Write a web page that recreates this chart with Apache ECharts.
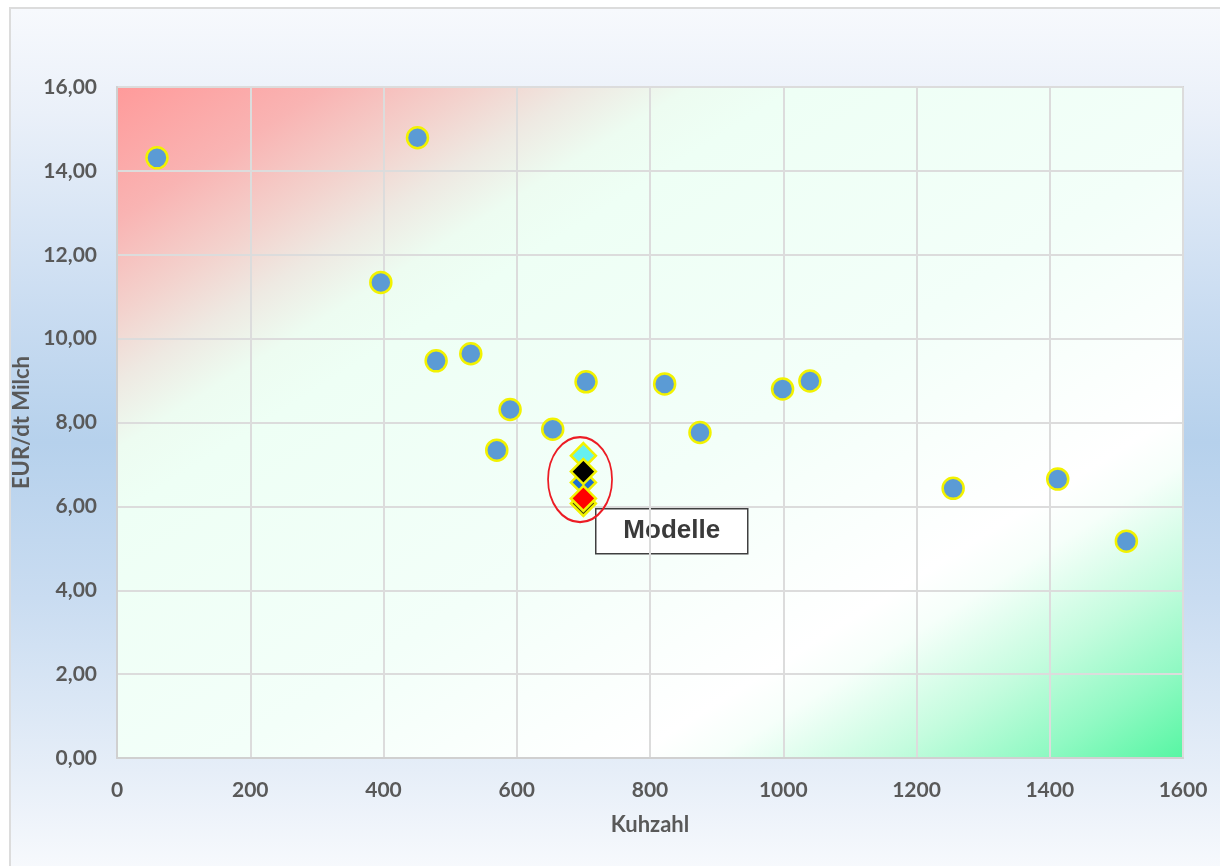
<!DOCTYPE html>
<html>
<head>
<meta charset="utf-8">
<script src="https://cdn.jsdelivr.net/npm/echarts@6/dist/echarts.min.js"></script>
<style>
  html, body { margin: 0; padding: 0; background: #ffffff; }
  #wrap { position: relative; width: 1220px; height: 866px; overflow: hidden; }
  #frame {
    position: absolute; left: 9px; top: 7px; width: 1220px; height: 870px;
    border: 2px solid #dcdcdc; box-sizing: border-box;
    background: linear-gradient(to bottom, #f7f9fd 0%, #eaf0f9 12%, #c9dcf1 35%, #b6d1ec 50%, #c9dcf1 68%, #e6eef8 88%, #f8fafd 100%);
  }
  #chart { position: absolute; left: 0; top: 0; width: 1220px; height: 866px; }
</style>
</head>
<body>
<div id="wrap">
  <div id="frame"></div>
  <div id="chart"></div>
</div>
<script>
// Farms: herd size (Kuhzahl) vs. cost in EUR per dt milk
const kuhzahl = [60, 451, 396, 479, 531, 590, 570, 654, 704, 822, 875, 999, 1040, 1255, 1412, 1515];
const eurProDt = [14.31, 14.79, 11.34, 9.47, 9.64, 8.31, 7.34, 7.84, 8.97, 8.92, 7.76, 8.80, 8.99, 6.43, 6.65, 5.17];

// Model farms, all at the same herd size
const modellKuhzahl = [700, 700, 700, 700, 700];
const modellEur = [6.07, 6.57, 7.21, 6.83, 6.19];
const modellFarben = ['#3b3b10', '#1f6fd0', '#66f0f0', '#000000', '#ff0000'];

// Ring marking the model group and its caption
const ringMitte = [695, 6.64];
const ringText = 'Modelle';

// Axis ranges and tick steps
const xMin = 0, xMax = 1600, xStep = 200;
const yMin = 0, yMax = 16, yStep = 2;

const chart = echarts.init(document.getElementById('chart'), null, { renderer: 'canvas' });

const labelFont = { fontFamily: 'Lato', fontWeight: 'bold', fontSize: 21, color: '#595959' };

const plotGradient = {
  type: 'linear', x: 0, y: 0, x2: 0.5676, y2: 1.4324,
  colorStops: [
    { offset: 0.00, color: '#ff9a9a' },
    { offset: 0.10, color: '#f9b4b3' },
    { offset: 0.17, color: '#f3d2cd' },
    { offset: 0.22, color: '#eee9e2' },
    { offset: 0.27, color: '#edfcf1' },
    { offset: 0.32, color: '#eefff5' },
    { offset: 0.55, color: '#f3fff9' },
    { offset: 0.74, color: '#ffffff' },
    { offset: 0.78, color: '#f6fffa' },
    { offset: 0.86, color: '#c4fcde' },
    { offset: 0.93, color: '#90f9c3' },
    { offset: 1.00, color: '#55f6a2' }
  ]
};

const option = {
  backgroundColor: 'transparent',
  animation: false,
  grid: {
    left: 117, top: 87, right: 37, bottom: 108,
    show: true,
    backgroundColor: plotGradient,
    borderColor: '#d4d4d4',
    borderWidth: 2
  },
  xAxis: {
    type: 'value',
    min: xMin, max: xMax, interval: xStep,
    name: 'Kuhzahl',
    nameLocation: 'middle',
    nameGap: 56,
    nameTextStyle: Object.assign({}, labelFont, { fontSize: 22 }),
    axisLine: { show: true, lineStyle: { color: '#d0d0d0', width: 2 } },
    axisTick: { show: false },
    axisLabel: Object.assign({
      margin: 22,
      formatter: function (v) { return String(v); }
    }, labelFont),
    splitLine: { show: true, lineStyle: { color: '#dcdcdc', width: 2 } }
  },
  yAxis: {
    type: 'value',
    min: yMin, max: yMax, interval: yStep,
    name: 'EUR/dt Milch',
    nameLocation: 'middle',
    nameGap: 78,
    nameTextStyle: Object.assign({}, labelFont, { fontSize: 22 }),
    axisLine: { show: true, lineStyle: { color: '#d0d0d0', width: 2 } },
    axisTick: { show: false },
    axisLabel: Object.assign({
      margin: 20,
      formatter: function (v) { return v.toFixed(2).replace('.', ','); }
    }, labelFont),
    splitLine: { show: true, lineStyle: { color: '#dcdcdc', width: 2 } }
  },
  series: [
    {
      name: 'Betriebe',
      type: 'scatter',
      symbol: 'circle',
      symbolSize: 21,
      itemStyle: { color: '#5b9bd5', borderColor: '#f2f200', borderWidth: 2.5, opacity: 1 },
      data: kuhzahl.map(function (x, i) { return [x, eurProDt[i]]; }),
      z: 3
    },
    {
      name: 'Modelle',
      type: 'scatter',
      symbol: 'diamond',
      symbolSize: 25,
      data: modellKuhzahl.map(function (x, i) {
        return {
          value: [x, modellEur[i]],
          itemStyle: { color: modellFarben[i], borderColor: '#f2f200', borderWidth: 2.5, opacity: 1 }
        };
      }),
      z: 4
    },
    {
      name: 'Ring',
      type: 'scatter',
      symbol: 'circle',
      symbolSize: [64, 85],
      silent: true,
      itemStyle: { color: 'rgba(0,0,0,0)', borderColor: '#ec1c24', borderWidth: 2, opacity: 1 },
      data: [ringMitte],
      z: 5
    }
  ],
  graphic: [
    {
      type: 'group',
      left: 595, top: 508,
      z: 10,
      children: [
        {
          type: 'rect',
          shape: { x: 0, y: 0, width: 152, height: 45 },
          style: { fill: '#ffffff', stroke: '#404040', lineWidth: 1.5 }
        },
        {
          type: 'text',
          x: 76, y: 22,
          style: {
            text: ringText,
            fill: '#3a3a3a',
            font: 'bold 26px "Liberation Sans", Arial, sans-serif',
            textAlign: 'center',
            textVerticalAlign: 'middle'
          }
        }
      ]
    }
  ]
};

chart.setOption(option);
</script>
</body>
</html>
